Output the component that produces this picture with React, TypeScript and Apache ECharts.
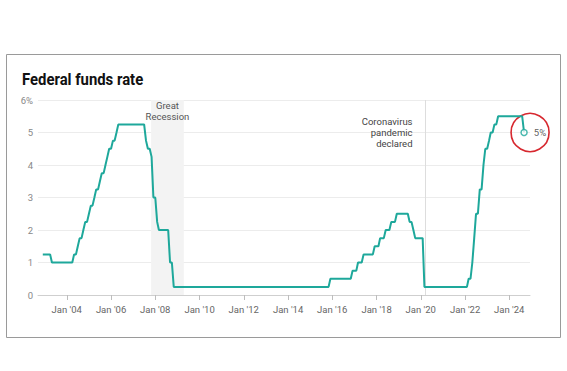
import React, { useEffect, useRef } from "react";
import * as echarts from "echarts";

// Vertices of the monthly rate line (upper bound, %), dates as placed in the reference
const rateDates = [
  "2002-12-01", "2003-04-01", "2003-05-01", "2004-04-01", "2004-05-01", "2004-06-01",
  "2004-07-01", "2004-08-01", "2004-09-01", "2004-10-01", "2004-11-01", "2004-12-01",
  "2005-01-01", "2005-02-01", "2005-03-01", "2005-04-01", "2005-05-01", "2005-06-01",
  "2005-07-01", "2005-08-01", "2005-09-01", "2005-10-01", "2005-11-01", "2005-12-01",
  "2006-01-01", "2006-02-01", "2006-03-01", "2006-04-01", "2006-05-01", "2007-07-01",
  "2007-08-01", "2007-09-01", "2007-10-01", "2007-11-01", "2007-12-01", "2008-01-01",
  "2008-02-01", "2008-03-01", "2008-08-01", "2008-09-01", "2008-10-01", "2008-11-01",
  "2015-11-01", "2015-12-01", "2016-11-01", "2016-12-01", "2017-02-01", "2017-03-01",
  "2017-05-01", "2017-06-01", "2017-11-01", "2017-12-01", "2018-02-01", "2018-03-01",
  "2018-05-01", "2018-06-01", "2018-08-01", "2018-09-01", "2018-11-01", "2018-12-01",
  "2019-06-01", "2019-07-01", "2019-08-01", "2019-09-01", "2019-10-01", "2020-02-01",
  "2020-03-01", "2022-02-01", "2022-03-01", "2022-04-01", "2022-05-01", "2022-06-01",
  "2022-07-01", "2022-08-01", "2022-09-01", "2022-10-01", "2022-11-01", "2022-12-01",
  "2023-01-01", "2023-02-01", "2023-03-01", "2023-04-01", "2023-05-01", "2023-06-01",
  "2023-07-01", "2024-08-01", "2024-09-01",
];
const rateValues = [
  1.25, 1.25, 1.0, 1.0, 1.25, 1.25,
  1.5, 1.75, 1.75, 2.0, 2.25, 2.25,
  2.5, 2.75, 2.75, 3.0, 3.25, 3.25,
  3.5, 3.75, 3.75, 4.0, 4.25, 4.5,
  4.5, 4.75, 4.75, 5.0, 5.25, 5.25,
  4.75, 4.5, 4.5, 4.25, 3.0, 3.0,
  2.25, 2.0, 2.0, 1.0, 1.0, 0.25,
  0.25, 0.5, 0.5, 0.75, 0.75, 1.0,
  1.0, 1.25, 1.25, 1.5, 1.5, 1.75,
  1.75, 2.0, 2.0, 2.25, 2.25, 2.5,
  2.5, 2.25, 2.25, 2.0, 1.75, 1.75,
  0.25, 0.25, 0.5, 0.5, 1.0, 1.75,
  2.5, 2.5, 3.25, 3.25, 4.0, 4.5,
  4.5, 4.75, 5.0, 5.0, 5.25, 5.25,
  5.5, 5.5, 5.0,
];

const tickDates = ["2004-01-01", "2006-01-01", "2008-01-01", "2010-01-01", "2012-01-01", "2014-01-01", "2016-01-01", "2018-01-01", "2020-01-01", "2022-01-01", "2024-01-01"];
const tickLabels = ["Jan '04", "Jan '06", "Jan '08", "Jan '10", "Jan '12", "Jan '14", "Jan '16", "Jan '18", "Jan '20", "Jan '22", "Jan '24"];

const recession = ["2007-10-24", "2009-04-16"];
const covidDate = "2020-03-11";

const axisMin = "2002-09-13";
const axisMax = "2024-12-08";

const TEAL = "#1ea89b";
const FONT = "Roboto, 'Liberation Sans', sans-serif";

const ts = (s: string) => {
  const [y, m, d] = s.split("-").map(Number);
  return new Date(y, m - 1, d).getTime();
};

export default function App() {
  const ref = useRef<HTMLDivElement>(null);

  useEffect(() => {
    if (!ref.current) return;
    const chart = echarts.init(ref.current, undefined, { renderer: "svg" });
    const tickTs = tickDates.map(ts);
    const labelMap: Record<number, string> = {};
    tickTs.forEach((t, i) => (labelMap[t] = tickLabels[i]));
    const lineData = rateDates.map((d, i) => [ts(d), rateValues[i]]);
    const last = lineData[lineData.length - 1];

    chart.setOption({
      animation: false,
      backgroundColor: "#fff",
      textStyle: { fontFamily: FONT },
      graphic: [
        {
          type: "rect",
          shape: { x: 6.5, y: 54.5, width: 554, height: 283 },
          style: { fill: "none", stroke: "#9a9a9a", lineWidth: 1 },
          silent: true,
        },
        {
          type: "text",
          x: 22,
          y: 79,
          scaleX: 0.875,
          silent: true,
          style: {
            text: "Federal funds rate",
            fontFamily: FONT,
            fontWeight: "bold",
            fontSize: 17,
            fill: "#111",
            verticalAlign: "middle",
            align: "left",
          },
        },
      ],
      grid: { left: 38, right: 37, top: 100, bottom: 76 },
      xAxis: {
        type: "value",
        min: ts(axisMin),
        max: ts(axisMax),
        axisLine: { show: true, lineStyle: { color: "#cfcfcf" } },
        axisTick: { show: true, customValues: tickTs, length: 5, lineStyle: { color: "#bdbdbd" } },
        axisLabel: {
          customValues: tickTs,
          formatter: (v: number) => labelMap[v] ?? "",
          color: "#666",
          fontSize: 9.5,
          fontFamily: FONT,
          margin: 9,
          hideOverlap: false,
        },
        splitLine: { show: false },
      },
      yAxis: {
        type: "value",
        min: 0,
        max: 6,
        interval: 1,
        axisLine: { show: false },
        axisTick: { show: false },
        axisLabel: {
          formatter: (v: number) => (v === 6 ? "6%" : String(v)),
          color: "#888",
          fontSize: 9.5,
          fontFamily: FONT,
          margin: 5,
        },
        splitLine: { lineStyle: { color: "#ececec", width: 1 } },
      },
      series: [
        {
          type: "line",
          data: lineData,
          symbol: "none",
          lineStyle: { color: TEAL, width: 2 },
          z: 5,
          markArea: {
            silent: true,
            itemStyle: { color: "#f3f3f3" },
            label: {
              show: true,
              position: "insideTop",
              distance: 0,
              formatter: "Great\nRecession",
              color: "#555",
              fontSize: 9.5,
              lineHeight: 11,
              fontFamily: FONT,
            },
            data: [[{ xAxis: ts(recession[0]) }, { xAxis: ts(recession[1]) }]],
          },
          markLine: {
            silent: true,
            symbol: ["none", "none"],
            lineStyle: { color: "#dddddd", type: "solid", width: 1 },
            label: { show: false },
            data: [{ xAxis: ts(covidDate) }],
          },
          markPoint: {
            silent: true,
            data: [
              {
                coord: [ts(covidDate), 5],
                symbol: "rect",
                symbolSize: 1,
                itemStyle: { color: "rgba(0,0,0,0)" },
                label: {
                  show: true,
                  position: "left",
                  distance: 12,
                  align: "right",
                  verticalAlign: "middle",
                  formatter: "Coronavirus\npandemic\ndeclared",
                  color: "#444",
                  fontSize: 9.5,
                  lineHeight: 10.8,
                  fontFamily: FONT,
                },
              },
            ],
          },
        },
        {
          type: "scatter",
          data: [last],
          symbol: "circle",
          symbolSize: 6,
          z: 6,
          itemStyle: { color: "#fff", borderColor: TEAL, borderWidth: 1.5 },
          label: {
            show: true,
            position: "right",
            distance: 6,
            formatter: (p: any) => `${p.value[1]}%`,
            color: "#333",
            fontSize: 9.5,
            fontFamily: FONT,
          },
          markPoint: {
            silent: true,
            data: [
              {
                coord: last,
                symbol: "circle",
                symbolSize: 38,
                symbolOffset: [6, 0],
                itemStyle: { color: "rgba(0,0,0,0)", borderColor: "#d7282f", borderWidth: 1.6 },
                label: { show: false },
              },
            ],
          },
        },
      ],
    });
    return () => chart.dispose();
  }, []);

  return (
    <div
      ref={ref}
      style={{ position: "fixed", left: 0, top: 0, width: 567, height: 371, background: "#fff" }}
    />
  );
}
